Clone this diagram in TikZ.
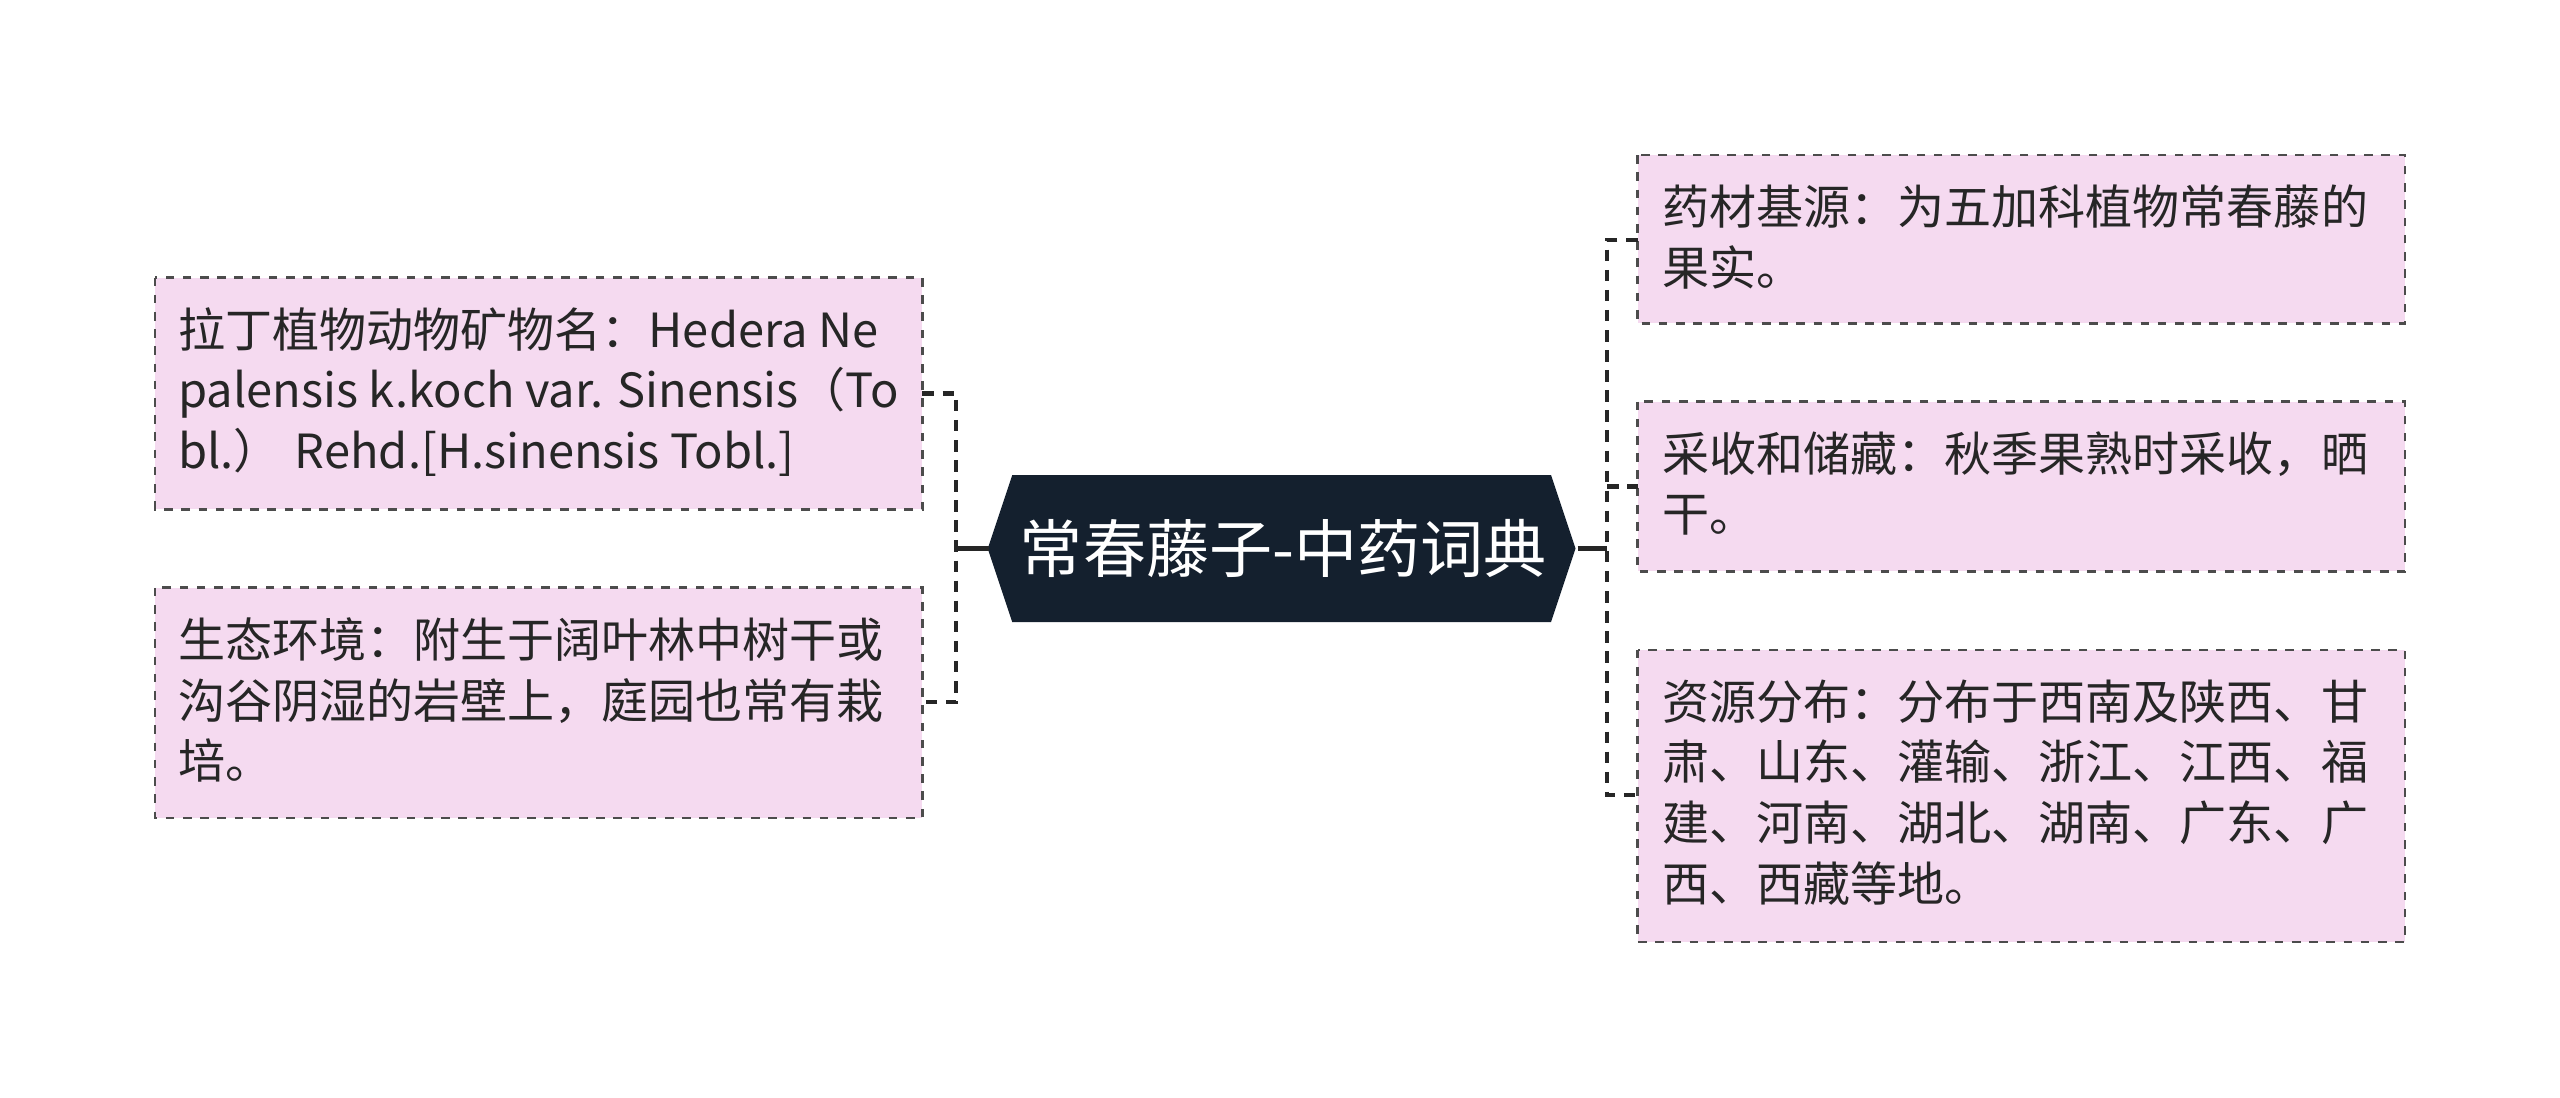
\documentclass[tikz,border=0pt]{standalone}
\usepackage{fontspec}
\setmainfont{Noto Sans CJK SC}
\definecolor{lf}{RGB}{245,218,240}
\begin{document}
\begin{tikzpicture}[x=0.02cm,y=-0.02cm,
  txt/.style={anchor=north west,align=left,font=\fontsize{16.4pt}{21.2pt}\selectfont,text=black!85},
  con/.style={draw=black!85,line width=1.6pt,dash pattern=on 4pt off 3pt}]
\useasboundingbox (0,0) rectangle (1568,672);
% center
\fill[fill={rgb,255:red,20;green,32;blue,46}] (605,336)--(620,291)--(950,291)--(965,336)--(950,381)--(620,381)--cycle;
\node[text=white,font=\fontsize{22pt}{24pt}\selectfont,minimum width=360*0.02cm,minimum height=90*0.02cm,inner sep=0pt] (c) at (786,336) {常春藤子-中药词典};
% boxes
\fill[lf] (95,170) rectangle (565,312);
\draw[black!70,dashed,line width=0.9pt] (95,170) rectangle (565,312);
\coordinate (l1) at (565,241);
\node[txt] at (103,182) {拉丁植物动物矿物名：Hedera Ne\\palensis k.koch var. Sinensis（To\\bl.） Rehd.[H.sinensis Tobl.]};
\fill[lf] (95,360) rectangle (565,501);
\draw[black!70,dashed,line width=0.9pt] (95,360) rectangle (565,501);
\coordinate (l2) at (565,430);
\node[txt] at (103,372) {生态环境：附生于阔叶林中树干或\\沟谷阴湿的岩壁上，庭园也常有栽\\培。};
\fill[lf] (1003,95) rectangle (1473,198);
\draw[black!70,dashed,line width=0.9pt] (1003,95) rectangle (1473,198);
\coordinate (r1) at (1003,147);
\node[txt] at (1012,107) {药材基源：为五加科植物常春藤的\\果实。};
\fill[lf] (1003,246) rectangle (1473,350);
\draw[black!70,dashed,line width=0.9pt] (1003,246) rectangle (1473,350);
\coordinate (r2) at (1003,298);
\node[txt] at (1012,258) {采收和储藏：秋季果熟时采收，晒\\干。};
\fill[lf] (1003,398) rectangle (1473,577);
\draw[black!70,dashed,line width=0.9pt] (1003,398) rectangle (1473,577);
\coordinate (r3) at (1003,487);
\node[txt] at (1012,410) {资源分布：分布于西南及陕西、甘\\肃、山东、灌输、浙江、江西、福\\建、河南、湖北、湖南、广东、广\\西、西藏等地。};
% connectors
\draw[black!85,line width=1.6pt] (c.west) -- ++(-20,0) coordinate (lj);
\draw[con] (l1) -| (lj) |- (l2);
\draw[black!85,line width=1.6pt] (c.east) -- ++(18,0) coordinate (rj);
\draw[con] (r1) -| (rj) |- (r3);
\draw[con] (rj |- r2) -- (r2);
\end{tikzpicture}
\end{document}
